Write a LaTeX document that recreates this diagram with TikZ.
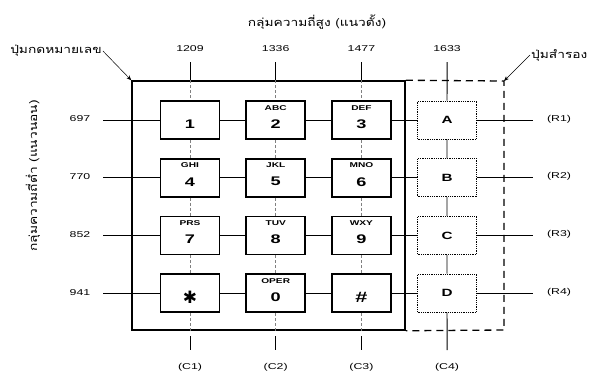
\documentclass[tikz,border=0pt]{standalone}
\usepackage{fontspec}
\setmainfont[FakeStretch=1.45]{Liberation Sans}
\newfontfamily\thaifont[Script=Thai, FakeStretch=1.25]{Loma}
\newfontfamily\symfont{DejaVu Sans}
\usetikzlibrary{arrows.meta, positioning, calc}

\begin{document}
\begin{tikzpicture}[
  x=1pt, y=-1pt,
  keybox/.style={rectangle, draw, line width=1.8pt,
                 minimum width=59pt, minimum height=38pt, inner sep=0pt},
  sparekey/.style={rectangle, draw, densely dotted, line width=0.8pt,
                   minimum width=59pt, minimum height=38pt, inner sep=0pt,
                   font=\fontsize{10.5}{10.5}\selectfont\bfseries},
  digit/.style={font=\fontsize{12.5}{12.5}\selectfont\bfseries, inner sep=0pt},
  letters/.style={font=\fontsize{7}{7}\selectfont\bfseries, inner sep=0pt},
  freq/.style={font=\fontsize{8.5}{8.5}\selectfont, inner sep=1pt},
  thai/.style={font=\thaifont\fontsize{11}{11}\selectfont, inner sep=1pt},
  wire/.style={line width=0.9pt},
  gap/.style={line width=0.5pt, densely dashed, gray},
  pointer/.style={-{Stealth[length=5pt, width=4pt]}, line width=0.5pt},
]
\useasboundingbox (0,0) rectangle (589,373);

% Titles
\node[thai] (highlab) at (317,22) {กลุ่มความถี่สูง (แนวตั้ง)};
\node[thai, rotate=90] (lowlab) at (33,176) {กลุ่มความถี่ต่ำ (แนวนอน)};
\node[thai] (keylab) at (56,51) {ปุ่มกดหมายเลข};
\node[thai, anchor=west] (sparelab) at (530,55) {ปุ่มสำรอง};

% Keypad frame
\node[draw, line width=1.5pt, minimum width=273pt, minimum height=249pt,
      inner sep=0pt] (pad) at (268.5,205.5) {};
\coordinate (spn) at (504,81);
\coordinate (sps) at (504,330);
\draw[line width=1.3pt, dash pattern=on 7pt off 5pt]
  (pad.north east) -- (spn) -- (sps) -- (pad.south east);
\draw[pointer] (keylab.east) -- (pad.north west);
\draw[pointer] (sparelab.west) -- (spn);

% Keys
\foreach \d/\l/\c/\r in {1//1/1, 2/ABC/2/1, 3/DEF/3/1,
                         4/GHI/1/2, 5/JKL/2/2, 6/MNO/3/2,
                         7/PRS/1/3, 8/TUV/2/3, 9/WXY/3/3,
                         {\symfont\fontsize{17}{17}\selectfont ✱}//1/4, 0/OPER/2/4,
                         {\fontsize{15}{15}\selectfont\#}//3/4}{
  \node[keybox] (k\r\c) at ({190+(\c-1)*85.7}, {120+(\r-1)*57.7}) {};
  \node[digit] at ([yshift=-4pt]k\r\c.center) {\d};
  \node[letters, below=5pt of k\r\c.north] {\l};
}
\foreach \l [count=\r] in {A,B,C,D}
  \node[sparekey] (k\r4) at (447, {120+(\r-1)*57.7}) {\l};

% Frequencies
\foreach \f [count=\c] in {1209,1336,1477,1633}{
  \node[freq] (h\c) at ({190+(\c-1)*85.7}, 49) {\f};
  \node[freq] (cc\c) at ({190+(\c-1)*85.7}, 367) {(C\c)};
  \coordinate (ct\c) at ({190+(\c-1)*85.7}, 62);
  \coordinate (cm\c) at ({190+(\c-1)*85.7}, 336);
  \coordinate (cb\c) at ({190+(\c-1)*85.7}, 350);
}
\foreach \f [count=\r] in {697,770,852,941}{
  \node[freq] (v\r) at (80, {119+(\r-1)*57.7}) {\f};
  \node[freq] (rr\r) at (559, {119+(\r-1)*57.7}) {(R\r)};
  \coordinate (vl\r) at (103, {120+(\r-1)*57.7});
  \coordinate (vr\r) at (533, {120+(\r-1)*57.7});
  \draw[wire] (vl\r) -- (k\r1) -- (k\r2) -- (k\r3) -- (k\r4) -- (vr\r);
}

% Column wires
\foreach \c in {1,2,3}{
  \draw[line width=0.6pt] (ct\c) -- (ct\c |- pad.north);
  \draw[gap] (ct\c |- pad.north) -- (k1\c);
  \draw[gap] (k1\c) -- (k2\c) -- (k3\c) -- (k4\c);
  \draw[gap] (k4\c) -- (k4\c |- pad.south);
  \draw[line width=0.6pt] (cm\c) -- (cb\c);
}
\draw[wire] (ct4) -- (k14) -- (k24) -- (k34) -- (k44) -- (cb4);

\end{tikzpicture}
\end{document}
